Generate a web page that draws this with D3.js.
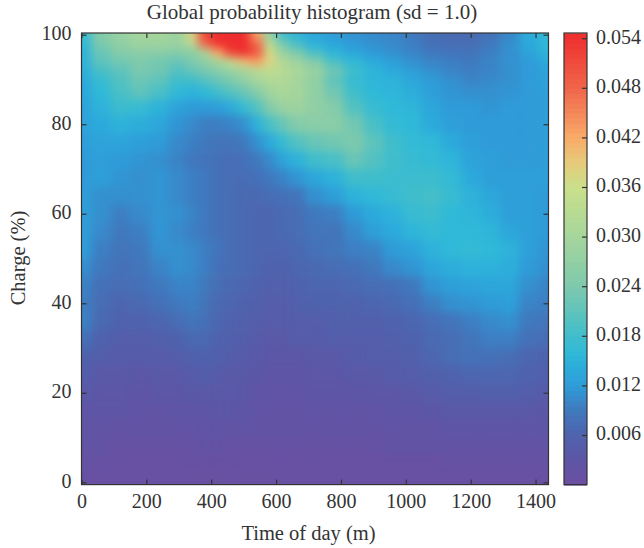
<!DOCTYPE html>
<html>
<head>
<meta charset="utf-8">
<script src="https://cdn.jsdelivr.net/npm/d3@7"></script>
<style>
  html, body { margin: 0; padding: 0; background: #fff; }
  svg { display: block; }
  text { font-family: "Liberation Serif", serif; fill: #333; }
  .axis text { font-size: 20px; }
  .axis path, .axis line { stroke: #333; stroke-width: 1.2; }
</style>
</head>
<body>
<script>
w = 644;
h = 548;

// values in thousandths of probability
minutes = [0, 60, 120, 180, 240, 300, 340, 380, 420, 460, 500, 540, 580, 620, 660, 720, 780, 840, 900, 960, 1020, 1080, 1140, 1200, 1260, 1320, 1380, 1440];
charge = [100, 98, 96, 94, 92, 90, 87, 84, 80, 76, 72, 68, 64, 60, 56, 52, 48, 44, 40, 36, 32, 28, 24, 20, 16, 12, 8, 4, 0];
histogram = [
  [17, 25, 28, 30, 30, 28, 38, 52, 54.6, 54.6, 54.6, 42, 27, 17, 15, 13, 12, 11, 10.5, 10, 9, 7.5, 7, 7, 8, 10, 14, 16],
  [16, 24, 27, 29, 29, 29, 33, 48, 54, 54.6, 54.6, 48, 33, 24, 19, 15, 13.5, 12, 11, 10.5, 9.5, 8, 7.5, 7.5, 9, 11, 14, 16],
  [15, 22, 25, 26, 26, 25, 26, 31, 42, 52, 54, 50, 37, 28, 24, 19, 15.5, 13.5, 12, 11, 10, 9, 8.5, 8.5, 9.5, 11, 13, 15.5],
  [15, 21, 23, 24, 23, 22, 24, 26, 30, 35, 40, 43, 38, 32, 29, 25, 19, 16, 14, 12.5, 11, 10, 9.5, 9, 10, 11, 12, 14],
  [14.5, 19, 21, 24, 23, 20, 22, 24, 26, 28, 30, 33, 34, 33, 31, 28, 23, 18, 15.5, 14, 12.5, 11, 10, 9.5, 10, 11, 12, 13],
  [14, 17, 20, 22.5, 21, 18, 18, 20, 22, 24, 27, 30, 32, 32, 30, 27, 21, 17, 15.5, 15, 13.5, 12, 11, 10, 10.5, 11, 12, 13],
  [13.5, 16, 19, 21, 19, 16, 15, 16, 18, 20, 22, 25, 29, 31, 30, 27, 23, 18, 16, 15.5, 14.5, 12.5, 11.5, 11, 11, 11.5, 12, 12.5],
  [13, 15, 17.5, 17, 15, 13, 12, 12, 12.5, 14, 17, 20, 25, 28, 29, 27, 25, 20, 17, 16, 15.5, 13.5, 12, 12, 11.5, 12, 12, 12.5],
  [13, 14, 15, 14.5, 13.5, 11.5, 10.5, 9.5, 9.5, 10, 11, 15, 19, 22, 25, 26, 26, 23, 19, 16.5, 16, 14, 12.5, 12, 12, 12, 12, 12.5],
  [12.5, 13, 13, 12.5, 12, 10.5, 9.5, 9, 8.5, 8.5, 9, 11, 14, 17, 20, 22, 23, 24, 21, 18, 16.5, 16, 14, 12.5, 12, 12, 12, 12.5],
  [12, 12.5, 12, 11.5, 11, 10, 9, 8.5, 8, 7.5, 8, 9, 10.5, 13, 15, 18, 19, 22, 20, 18, 17, 16.5, 15.5, 13, 12.5, 12, 12, 12.5],
  [12, 12.5, 11.5, 11, 11.5, 10.5, 9.5, 9, 8, 7.5, 7.5, 8, 9, 10, 11.5, 13.5, 15, 18, 18, 17.5, 17.5, 17.5, 16.5, 14, 12.5, 12.5, 12.5, 12.5],
  [12.5, 11, 11, 11, 11.5, 10.5, 9.5, 9, 8, 7.5, 7, 7, 7.5, 8, 8.5, 11, 12.5, 15, 16, 17, 18, 18.5, 17, 15, 13.5, 12.5, 12.5, 12],
  [12.5, 11, 9.5, 10.5, 11.5, 11, 10, 9, 8, 7.5, 7, 6.5, 6.5, 7, 7.5, 9, 9.5, 12, 14, 15, 17, 17.5, 16, 15.5, 14.5, 12.5, 12.5, 12],
  [12.5, 10.5, 9, 9.5, 11.5, 10.5, 9.5, 9, 8, 7.5, 7, 6.5, 6.5, 7, 7.5, 8.5, 8.5, 10.5, 12.5, 14, 15.5, 16.5, 16, 16, 15.5, 13.5, 12.5, 12],
  [12.5, 9.5, 8.5, 9, 11, 11, 10.5, 9.5, 8.5, 7.5, 7, 6.5, 6.5, 6.5, 7, 8, 8.5, 9.5, 10, 12, 13, 15, 16, 16.5, 16, 15, 12.5, 11.5],
  [11, 9, 8, 8.5, 10, 11, 10.5, 9.5, 8, 7.5, 7, 6.5, 6, 6, 6.5, 7, 7.5, 8, 9, 10.5, 11.5, 13.5, 14.5, 15, 15, 14.5, 12, 11],
  [10, 8, 7.5, 8, 9, 10, 10, 9, 7.5, 7, 6.5, 6, 5.5, 5.5, 6, 6.5, 6.5, 7, 7.5, 8, 9, 11.5, 12.5, 13, 13.5, 13.5, 11, 10],
  [9.5, 7.5, 6.5, 7, 8, 9, 9.5, 8.5, 7, 6.5, 6, 5.5, 5, 5, 5.5, 6, 6, 6, 6.5, 7, 8, 9.5, 11, 11.5, 12, 12.5, 10, 9.5],
  [10, 7, 6, 6, 6.5, 7.5, 8.5, 8, 6.5, 6, 5.5, 5, 4.5, 4.5, 5, 5, 5.5, 5.5, 5.5, 6, 6.5, 7.5, 8.5, 9.5, 10.5, 11, 9, 8.5],
  [8, 6, 5, 5, 5.5, 6, 7, 7, 6, 5.5, 5, 4.5, 4, 4, 4.5, 4.5, 5, 5, 5, 5.5, 6, 7, 7.5, 8.5, 9.5, 9.5, 8, 7.5],
  [6, 5, 4.5, 4.5, 4.5, 5, 5.5, 6, 5.5, 5, 4.5, 4, 3.5, 3.5, 3.5, 4, 4, 4.5, 5, 5, 5.5, 6.5, 7.5, 8, 8, 7.5, 6.5, 6],
  [5, 4, 4, 3.5, 4, 4, 4.5, 5, 4.5, 4, 4, 3.5, 3, 3, 3, 3.5, 3.5, 4, 4, 4.5, 5, 5.5, 6, 6.5, 6.5, 6.5, 6, 5.5],
  [4, 3.5, 3.5, 3, 3.5, 3.5, 4, 4, 4, 4, 3.5, 3, 2.5, 2.5, 2.5, 3, 3, 3, 3.5, 3.5, 4, 4.5, 5, 5, 5.5, 5.5, 5, 4.5],
  [3, 3, 3, 2.5, 2.5, 3, 3, 3, 3.5, 3.5, 3, 2.5, 2, 2, 2, 2.5, 2.5, 2.5, 2.5, 3, 3, 3.5, 4, 4, 4, 4, 4, 3.5],
  [2.5, 2.5, 2, 2, 2, 2, 2.5, 2.5, 2.5, 2.5, 2.5, 2, 2, 2, 2, 2, 2, 2, 2, 2.5, 2.5, 2.5, 3, 3, 3, 3, 3, 3],
  [2, 2, 1.5, 1.5, 1.5, 1.5, 1.5, 2, 2, 1.5, 1.5, 1.5, 1.5, 1.5, 1.5, 1.5, 1.5, 1.5, 1.5, 2, 2, 2, 2, 2, 2, 2, 2, 2],
  [1.5, 1.5, 1, 1, 1, 1, 1, 1, 1, 1, 1, 1, 1, 1, 1, 1, 1, 1, 1, 1, 1, 1, 1.5, 1.5, 1.5, 1.5, 1.5, 1.5],
  [0.8, 0.8, 0.8, 0.8, 0.8, 0.8, 0.8, 0.8, 0.8, 0.8, 0.8, 0.8, 0.8, 0.8, 0.8, 0.8, 0.8, 0.8, 0.8, 0.8, 0.8, 0.8, 0.8, 0.8, 0.8, 0.8, 0.8, 0.8]
];

xTicks = [0, 200, 400, 600, 800, 1000, 1200, 1400];
yTicks = [0, 20, 40, 60, 80, 100];
colorTicks = [0.006, 0.012, 0.018, 0.024, 0.030, 0.036, 0.042, 0.048, 0.054];

// colormap stops, value -> colour
colorStops = [0, 3, 6, 9, 12, 14, 16, 18, 24, 30, 36, 39, 42, 48, 54.6];
colorValues = ['#6c4ea0', '#5f55a6', '#4f62ad', '#4079bd', '#2f9bd8', '#2caadb', '#30b9d8', '#40bdcb', '#7dc9ad', '#a5d59c', '#cadf8a', '#e6cb7c', '#f8ab68', '#f0664a', '#ee2d2e'];

let x = d3.scaleLinear().domain([0, 1440]).range([81.5, 548.5]);
let y = d3.scaleLinear().domain([0, 100]).range([482.3, 34.7]);
let color = d3.scaleLinear().domain(colorStops).range(colorValues);
let cbar = d3.scaleLinear().domain([0, 0.006]).range([484.6, 435]);

let top_ = 33, bottom = 484.6, left = 81.5, right = 548.5;

svg = d3.select('body').append('svg')
  .attr('width', w)
  .attr('height', h);

let defs = svg.append('defs');
defs.append('clipPath').attr('id', 'plot')
  .append('rect')
  .attr('x', left).attr('y', top_)
  .attr('width', right - left).attr('height', bottom - top_);

let blur = defs.append('filter').attr('id', 'soft')
  .attr('filterUnits', 'userSpaceOnUse')
  .attr('x', left - 30).attr('y', top_ - 30)
  .attr('width', right - left + 60).attr('height', bottom - top_ + 60)
  .attr('color-interpolation-filters', 'sRGB');
blur.append('feGaussianBlur').attr('stdDeviation', 5);
blur.append('feComponentTransfer')
  .append('feFuncA').attr('type', 'table').attr('tableValues', '1 1');

// cell edges sit halfway between the sample positions
function edges(a, lo, hi) {
  let e = [lo];
  for (let i = 1; i < a.length; i++) e.push((a[i - 1] + a[i]) / 2);
  e.push(hi);
  return e;
}
let xEdges = edges(minutes, 0, 1440);
let yEdges = edges(charge, 100.4, -0.5);

let cells = [];
histogram.forEach((row, r) => row.forEach((v, c) => cells.push({ r, c, v })));

svg.append('g')
  .attr('clip-path', 'url(#plot)')
  .append('g')
  .attr('filter', 'url(#soft)')
  .selectAll('rect')
  .data(cells)
  .enter()
  .append('rect')
  .attr('x', d => x(xEdges[d.c]))
  .attr('y', d => y(yEdges[d.r]))
  .attr('width', d => x(xEdges[d.c + 1]) - x(xEdges[d.c]) + 0.5)
  .attr('height', d => y(yEdges[d.r + 1]) - y(yEdges[d.r]) + 0.5)
  .attr('fill', d => color(d.v));

// axes, ticks point inwards on all four sides
let tickLen = 5;
svg.append('g').classed('axis', true)
  .attr('transform', `translate(0, ${bottom})`)
  .call(d3.axisBottom(x).tickValues(xTicks).tickSize(-tickLen).tickPadding(9.5).tickFormat(d3.format('d')));
svg.append('g').classed('axis', true)
  .attr('transform', `translate(0, ${top_})`)
  .call(d3.axisTop(x).tickValues(xTicks).tickSize(-tickLen).tickFormat(''));
svg.append('g').classed('y-labels', true).classed('axis', true)
  .attr('transform', `translate(${left}, 0)`)
  .call(d3.axisLeft(y).tickValues(yTicks).tickSize(-tickLen).tickPadding(10).tickFormat(d3.format('d')));
svg.append('g').classed('axis', true)
  .attr('transform', `translate(${right}, 0)`)
  .call(d3.axisRight(y).tickValues(yTicks).tickSize(-tickLen).tickFormat(''));

// x and y scale paths have to span the whole box
svg.selectAll('.axis .domain').remove();
svg.append('rect')
  .attr('x', left).attr('y', top_)
  .attr('width', right - left).attr('height', bottom - top_)
  .attr('fill', 'none').attr('stroke', '#333').attr('stroke-width', 1.2);

// colorbar
let cbLeft = 564, cbRight = 587;
let levels = d3.range(0, 54.6, 0.6);
svg.append('g')
  .selectAll('rect')
  .data(levels)
  .enter()
  .append('rect')
  .attr('x', cbLeft)
  .attr('y', d => cbar((d + 0.6) / 1000))
  .attr('width', cbRight - cbLeft)
  .attr('height', d => cbar(d / 1000) - cbar((d + 0.6) / 1000) + 1)
  .attr('fill', d => color(d + 0.3));
svg.append('g').classed('y-labels', true).classed('axis', true)
  .attr('transform', `translate(${cbRight}, 0)`)
  .call(d3.axisRight(cbar).tickValues(colorTicks).tickSize(-tickLen).tickPadding(9).tickFormat(d3.format('.3f')));
svg.selectAll('.axis .domain').remove();
svg.selectAll('.y-labels text').attr('dy', '0.24em');
svg.append('rect')
  .attr('x', cbLeft).attr('y', top_)
  .attr('width', cbRight - cbLeft).attr('height', bottom - top_)
  .attr('fill', 'none').attr('stroke', '#333').attr('stroke-width', 1.2);

svg.append('text')
  .attr('x', 312).attr('y', 18.5)
  .attr('text-anchor', 'middle')
  .attr('font-size', '21px')
  .text('Global probability histogram (sd = 1.0)');
svg.append('text')
  .attr('x', 308.5).attr('y', 540)
  .attr('text-anchor', 'middle')
  .attr('font-size', '20.5px')
  .text('Time of day (m)');
svg.append('text')
  .attr('transform', 'translate(25, 258) rotate(-90)')
  .attr('text-anchor', 'middle')
  .attr('font-size', '20.5px')
  .text('Charge (%)');
</script>
</body>
</html>
